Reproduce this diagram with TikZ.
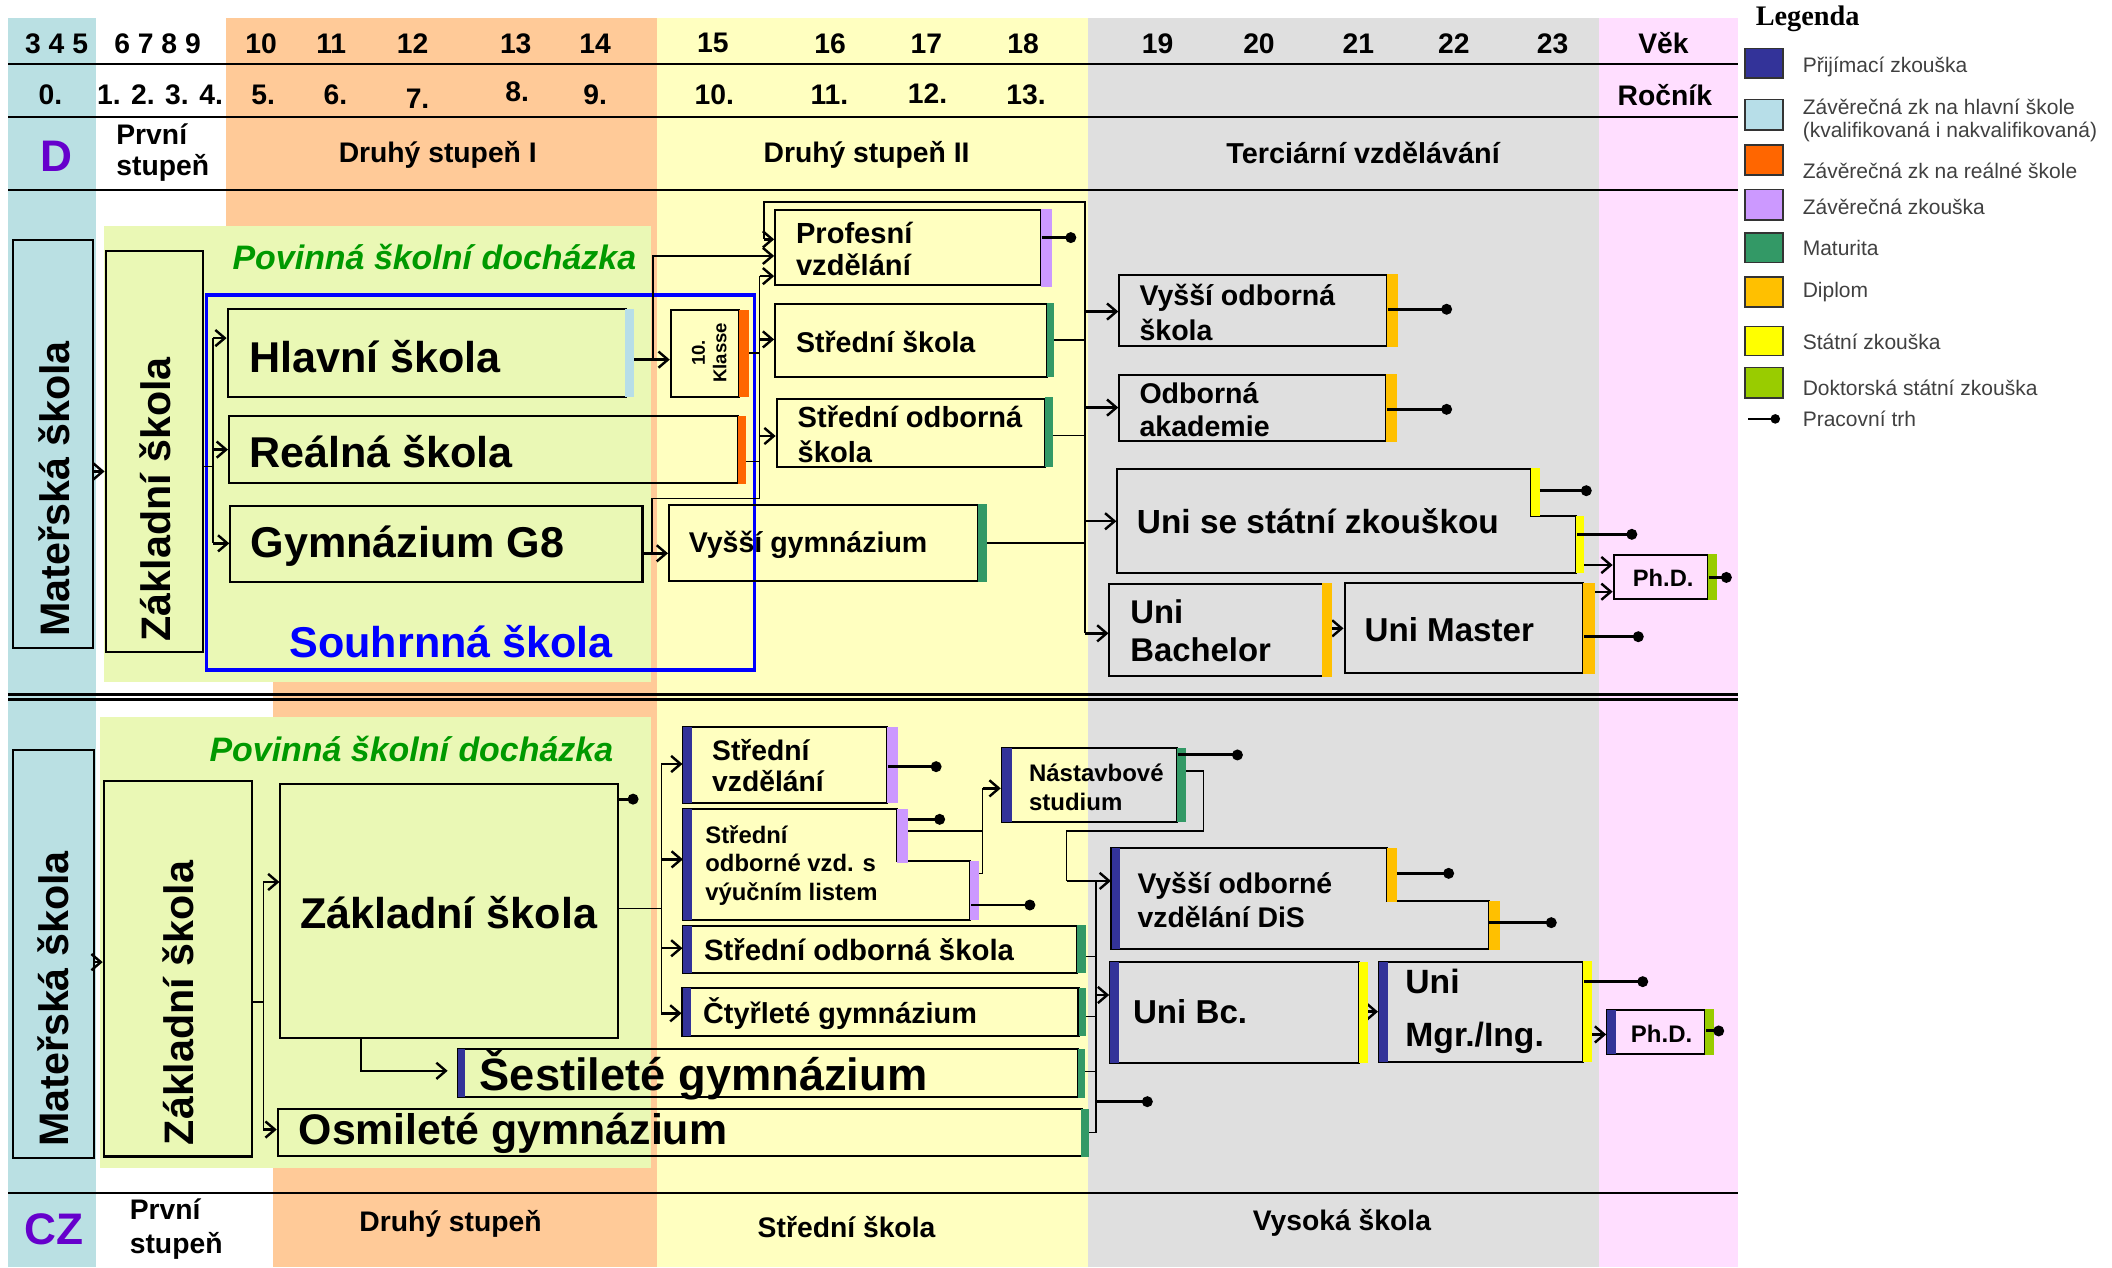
\documentclass[tikz,border=0pt]{standalone}
\usepackage{fontspec}
\setmainfont{Liberation Sans}
\newfontfamily\legserif{Liberation Serif}
\usetikzlibrary{arrows.meta,fit,calc}
\definecolor{cBlueCol}{RGB}{186,224,227}
\definecolor{cOrange}{RGB}{255,202,152}
\definecolor{cYellow}{RGB}{255,255,192}
\definecolor{cGray}{RGB}{223,223,223}
\definecolor{cPink}{RGB}{255,222,255}
\definecolor{cGreenBg}{RGB}{234,248,181}
\definecolor{bPrij}{RGB}{51,51,153}
\definecolor{bHlav}{RGB}{183,222,232}
\definecolor{bReal}{RGB}{255,102,0}
\definecolor{bZav}{RGB}{204,153,255}
\definecolor{bMat}{RGB}{51,153,102}
\definecolor{bDip}{RGB}{255,192,0}
\definecolor{bStat}{RGB}{255,255,0}
\definecolor{bDok}{RGB}{153,204,0}
\definecolor{txtPurple}{RGB}{102,0,204}
\definecolor{txtGreen}{RGB}{0,153,0}
\definecolor{blueBox}{RGB}{0,0,255}
\definecolor{legGray}{RGB}{64,64,64}
\newcommand\fsz[2]{\fontsize{#1}{#2}\selectfont}
\newcommand\hdr{\bfseries\fsz{10.5}{12.4}}
\newcommand\colbar[5]{\fill[#1] (#2,#3) rectangle (#4,#5);}
\begin{document}
\begin{tikzpicture}[x=0.5pt,y=-0.5pt,
  bx/.style={draw, line width=0.75pt, inner sep=0pt},
  tx/.style={anchor=west, inner sep=0pt, align=left},
  ctx/.style={inner sep=0pt, align=center},
  arr/.style={line width=0.9pt, -{Straight Barb[length=3.5pt,width=6pt]}},
  ln/.style={line width=0.6pt},
  job/.style={line width=1.1pt, -{Circle[length=4pt]}},
  hl/.style={line width=0.8pt},
  swatch/.style={draw=black!80, line width=0.5pt},
  legtx/.style={anchor=west, inner sep=0pt, align=left, font=\fsz{7.8}{8.6}, text=legGray}
]
\useasboundingbox (0,0) rectangle (1568,941);
% ---------- backgrounds ----------
\fill[cBlueCol] (6,13) rectangle (71,941);
\fill[cOrange] (168,13) rectangle (488,506);
\fill[cOrange] (203,506) rectangle (488,941);
\fill[cYellow] (488,13) rectangle (808,941);
\fill[cGray] (808,13) rectangle (1187,941);
\fill[cPink] (1187,13) rectangle (1290,941);
\fill[cGreenBg] (77,167.5) rectangle (483,506);
\fill[cGreenBg] (74,532) rectangle (483,867);
% ---------- header lines ----------
\draw[hl] (6,47.8) -- (1290,47.8);
\draw[hl] (6,86.6) -- (1290,86.6);
\draw[hl] (6,141) -- (1290,141);
\draw[line width=1.1pt] (6,515.3) -- (1290,515.3);
\draw[line width=1.1pt] (6,519) -- (1290,519);
\draw[hl] (6,885.4) -- (1290,885.4);
% ---------- header text ----------
\foreach \t/\x [count=\i] in {3 4 5/42, 6 7 8 9/117, 10/193.8, 11/245.9, 12/306.3, 13/382.9, 14/441.8, 15/529.3, 16/616.3, 17/687.7, 18/759.6, 19/859.5, 20/934.7, 21/1008.5, 22/1079.4, 23/1152.7, Věk/1235}
  \node[ctx, font=\hdr] (age\i) at (\x,32.2) {\t};
\foreach \t/\x/\y [count=\i] in {0./37.5/70.5, 1. 2. 3. 4./118.8/70.5, 5./195.4/70.5, 6./249/70.5, 7./310/73, 8./383.9/68, 9./441.8/70.5, 10./530.3/70.5, 11./615.8/70.5, 12./688.7/69.3, 13./761.7/70.5, Ročník/1236/70.5}
  \node[ctx, font=\hdr] (grade\i) at (\x,\y) {\t};
\node[ctx, font=\bfseries\fsz{16.4}{18}, text=txtPurple] (dlab) at (41.7,116.3) {D};
\node[tx, font=\bfseries\fsz{10.5}{11.75}] (ps1) at (86,113.2) {První\\stupeň};
\node[ctx, font=\hdr] (ds1) at (325,115.1) {Druhý stupeň I};
\node[ctx, font=\hdr] (ds2) at (643.4,115.1) {Druhý stupeň II};
\node[ctx, font=\bfseries\fsz{10.7}{12.4}] (terc) at (1012,113.5) {Terciární vzdělávání};
% ---------- legend ----------
\node[inner sep=0pt, font=\legserif\bfseries\fsz{10.5}{12}] (leg) at (1342,14) {Legenda};
\filldraw[swatch, fill=bPrij] (1295.5,36) rectangle (1323.7,58);
\filldraw[swatch, fill=bHlav] (1295.5,74) rectangle (1323.7,96.5);
\filldraw[swatch, fill=bReal] (1295.5,107.6) rectangle (1323.7,130);
\filldraw[swatch, fill=bZav] (1295.5,140.6) rectangle (1323.7,163.3);
\filldraw[swatch, fill=bMat] (1295.5,173) rectangle (1323.7,195);
\filldraw[swatch, fill=bDip] (1295.5,205.6) rectangle (1323.7,227.9);
\filldraw[swatch, fill=bStat] (1295.5,242.5) rectangle (1323.7,264);
\filldraw[swatch, fill=bDok] (1295.5,273) rectangle (1323.7,295.6);
\node[legtx] (l1) at (1338,50) {Přijímací zkouška};
\node[legtx] (l2) at (1338,89.4) {Závěrečná zk na hlavní škole\\(kvalifikovaná i nakvalifikovaná)};
\node[legtx] (l3) at (1338,126.5) {Závěrečná zk na reálné škole};
\node[legtx] (l4) at (1338,153.5) {Závěrečná zkouška};
\node[legtx] (l5) at (1338,184) {Maturita};
\node[legtx] (l6) at (1338,216.5) {Diplom};
\node[legtx] (l7) at (1338,254) {Státní zkouška};
\node[legtx] (l8) at (1338,288) {Doktorská státní zkouška};
\node[legtx] (l9) at (1338,311) {Pracovní trh};
\coordinate (legdot) at (1321.5,311);
\draw[line width=0.8pt, -{Circle[length=3.5pt]}] (1298,311) -- (legdot);
% =================== UPPER (D) ===================
\node[bx, fit={(9.5,178.2)(69,481.3)}] (mu) {};
\node[bx, fit={(78.4,186)(150.4,483.7)}] (zu) {};
\node[draw=blueBox, line width=1.2pt, inner sep=0pt, fit={(153.4,219)(560,497.4)}] (sh) {};
\node[bx, fit={(169,229.6)(465,295)}] (hs) {};
\node[bx, fit={(170,308.8)(548,358.8)}] (rs) {};
\node[bx, fit={(171,375.6)(477,432.3)}] (g8) {};
\node[bx, fit={(498,230)(549,294.5)}] (kl) {};
\node[bx, fit={(575.5,155.9)(772.5,211.6)}] (pv) {};
\node[bx, fit={(575.5,225.7)(777,279.6)}] (ss) {};
\node[bx, fit={(576.6,296)(776,346.4)}] (so) {};
\node[bx, fit={(496.7,374.9)(726,431.3)}] (vg) {};
\node[bx, fit={(831,204.1)(1029.5,256.8)}] (vos) {};
\node[bx, fit={(831,278.4)(1029.3,327.4)}] (oa) {};
\node[inner sep=0pt, fit={(829.2,348.2)(1170.4,425.2)}] (us) {};
\draw[line width=0.75pt] (829.2,348.2) -- (1137,348.2) -- (1137,382.9) -- (1170.4,382.9) -- (1170.4,425.2) -- (829.2,425.2) -- cycle;
\node[bx, fit={(823.7,433.6)(982,501.9)}] (ub) {};
\node[bx, fit={(998.2,433)(1175.3,500)}] (um) {};
\node[bx, fit={(1198,412)(1268,444.7)}] (ph1) {};
% connectors upper
\draw[arr] (mu.east |- 0,350) -- (zu.west |- 0,350);
\coordinate (zuj) at (158.3,346.4);
\coordinate (zuT) at (158.3,251);
\coordinate (zuB) at (158.3,403.4);
\draw[ln] (zu.east |- zuj) -- (zuj);
\draw[ln] (zuT) -- (zuB);
\draw[arr] (zuT) -- (hs.west |- zuT);
\draw[arr] (zuT |- rs.west) -- (rs.west);
\draw[arr] (zuB) -- (g8.west |- zuB);
\draw[arr] (hs.east |- 0,267) -- (kl.west |- 0,267);
\coordinate (hj) at (485,267);
\draw[arr] (hj) |- (pv.west |- 0,190);
\draw[arr] (g8.east |- 0,410.8) -- (vg.west |- 0,410.8);
\coordinate (gj) at (484,410.8);
\coordinate (cL) at (564,370);
\draw[ln] (gj) |- (cL) -- (564,205);
\draw[arr] (564,205) -- (pv.west |- 0,205);
\draw[arr] (564,252) -- (ss.west |- 0,252);
\draw[arr] (564,323.7) -- (so.west |- 0,323.7);
\draw[ln] (kl.east |- 0,262.3) -- (564,262.3);
\draw[ln] (rs.east |- 0,342.7) -- (564,342.7);
\coordinate (cB) at (805.4,150.2);
\draw[ln] (805.4,470.2) -- (cB) -| (567,177.7);
\draw[arr] (567,177.7) -- (pv.west |- 0,177.7);
\draw[ln] (ss.east |- 0,252.4) -- (805.4,252.4);
\draw[ln] (so.east |- 0,323.4) -- (805.4,323.4);
\draw[ln] (vg.east |- 0,403.3) -- (805.4,403.3);
\draw[arr] (805.4,231.3) -- (vos.west |- 0,231.3);
\draw[arr] (805.4,302.6) -- (oa.west |- 0,302.6);
\draw[arr] (805.4,387) -- (us.west |- 0,387);
\draw[arr] (805.4,470.2) -- (ub.west |- 0,470.2);
\draw[arr] (ub.east |- 0,466.5) -- (um.west |- 0,466.5);
\draw[arr] (us.east |- 0,419.5) -- (ph1.west |- 0,419.5);
\draw[arr] (um.east |- 0,439.3) -- (ph1.west |- 0,439.3);
% bars upper
\colbar{bHlav}{464}{229.6}{471}{295}
\colbar{bReal}{548}{308.8}{554}{359}
\colbar{bReal}{549}{230}{556}{294.5}
\colbar{bZav}{772.5}{155.4}{781}{212.8}
\colbar{bMat}{777}{225}{782.6}{280}
\colbar{bMat}{776}{295}{782}{347}
\colbar{bMat}{726}{374}{732.7}{432}
\colbar{bDip}{1029.5}{203.5}{1037.6}{257.5}
\colbar{bDip}{1029.3}{278}{1037}{328}
\colbar{bStat}{1136.6}{347.7}{1143}{382.9}
\colbar{bStat}{1170.4}{382.9}{1176}{425.7}
\colbar{bDip}{981.5}{433}{989.2}{502.5}
\colbar{bDip}{1175.3}{432.5}{1184}{500.5}
\colbar{bDok}{1268}{411.5}{1274.4}{445.5}
% labour market dots upper
\coordinate (d1) at (799,176.4);
\draw[job] (pv.east |- d1) -- (d1);
\coordinate (d2) at (1078,229.6);
\draw[job] (vos.east |- d2) -- (d2);
\coordinate (d3) at (1078,303.9);
\draw[job] (oa.east |- d3) -- (d3);
\coordinate (d4) at (1181.7,364.3);
\draw[job] (1143,364.3) -- (d4);
\coordinate (d5) at (1215.5,396.7);
\draw[job] (us.east |- d5) -- (d5);
\coordinate (d6) at (1220.3,472.7);
\draw[job] (um.east |- d6) -- (d6);
\coordinate (d7) at (1285.7,428.7);
\draw[job] (ph1.east |- d7) -- (d7);
% texts upper
\node[ctx, rotate=90, font=\bfseries\fsz{15.3}{18}] (mu-t) at (40,363) {Mateřská škola};
\node[ctx, rotate=90, font=\bfseries\fsz{15.3}{18}] (zu-t) at (115.5,370.6) {Základní škola};
\node[ctx, font=\bfseries\itshape\fsz{12.6}{15}, text=txtGreen] (pov1) at (322.5,190.5) {Povinná školní docházka};
\node[ctx, font=\bfseries\fsz{16}{19}, text=blueBox] (sh-t) at (335,476) {Souhrnná škola};
\node[tx, font=\bfseries\fsz{16}{19}] (hs-t) at (184.5,264.8) {Hlavní škola};
\node[tx, font=\bfseries\fsz{16}{19}] (rs-t) at (184.5,335) {Reálná škola};
\node[tx, font=\bfseries\fsz{16}{19}] (g8-t) at (185.6,405.8) {Gymnázium G8};
\node[ctx, rotate=90, font=\bfseries\fsz{6.9}{8}] (kl-t) at (526.5,262) {10.\\Klasse};
\node[tx, font=\bfseries\fsz{10.8}{11.75}] (pv-t) at (590.6,185) {Profesní\\vzdělání};
\node[tx, font=\bfseries\fsz{10.6}{12}] (ss-t) at (590.6,253.6) {Střední škola};
\node[tx, font=\bfseries\fsz{10.8}{12.75}] (so-t) at (591.8,322.5) {Střední odborná\\škola};
\node[tx, font=\bfseries\fsz{10.6}{12}] (vg-t) at (511,404.6) {Vyšší gymnázium};
\node[tx, font=\bfseries\fsz{10.6}{13}] (vos-t) at (845.6,232) {Vyšší odborná\\škola};
\node[tx, font=\bfseries\fsz{10.6}{12.35}] (oa-t) at (845.6,304.4) {Odborná\\akademie};
\node[tx, font=\bfseries\fsz{12.4}{14}] (us-t) at (843.7,387.3) {Uni se státní zkouškou};
\node[tx, font=\bfseries\fsz{12.2}{14.3}] (ub-t) at (838.8,468.3) {Uni\\Bachelor};
\node[tx, font=\bfseries\fsz{12.3}{14}] (um-t) at (1012.7,467.8) {Uni Master};
\node[ctx, font=\bfseries\fsz{8.8}{10}] (ph1-t) at (1234.8,428.7) {Ph.D.};
% =================== LOWER (CZ) ===================
\node[bx, fit={(9.3,556.7)(69.6,859.6)}] (ml) {};
\node[bx, fit={(77,579.7)(187.3,858.6)}] (zl) {};
\node[bx, fit={(208.2,582.4)(459,770.3)}] (zb) {};
\node[bx, fit={(339.7,779)(800,814.4)}] (sg) {};
\node[bx, fit={(206.2,823.6)(803,858.4)}] (og) {};
\node[bx, fit={(507.4,540)(658.5,596)}] (sv) {};
\node[inner sep=0pt, fit={(507.4,600.9)(720.5,683)}] (sov) {};
\draw[line width=0.75pt] (507.4,600.9) -- (665.8,600.9) -- (665.8,639.2) -- (720.5,639.2) -- (720.5,683) -- (507.4,683) -- cycle;
\node[bx, fit={(743.7,555.6)(873.6,610)}] (ns) {};
\node[bx, fit={(507.4,687.5)(799.4,722.1)}] (sos) {};
\node[bx, fit={(506.7,733.8)(800.7,769.1)}] (cg) {};
\node[inner sep=0pt, fit={(825.2,629.3)(1105.3,704.8)}] (vod) {};
\draw[line width=0.75pt] (825.2,629.3) -- (1029.8,629.3) -- (1029.8,668.9) -- (1105.3,668.9) -- (1105.3,704.8) -- (825.2,704.8) -- cycle;
\node[bx, fit={(824.2,714)(1008.9,789)}] (ubc) {};
\node[bx, fit={(1023.8,714)(1175.6,788.2)}] (umg) {};
\node[bx, fit={(1193.2,749.8)(1266,782.5)}] (ph2) {};
% connectors lower
\draw[arr] (ml.east |- 0,714.3) -- (zl.west |- 0,714.3);
\coordinate (zlj) at (195.6,743.8);
\coordinate (zlT) at (195.6,654.8);
\coordinate (zlB) at (195.6,838.6);
\draw[ln] (zl.east |- zlj) -- (zlj);
\draw[ln] (zlT) -- (zlB);
\draw[arr] (zlT) -- (zb.west |- zlT);
\draw[arr] (zlB) -- (og.west |- zlB);
\draw[arr, shorten >=3.3pt] (zb.south -| 267.8,0) |- (sg.west |- 0,795);
\coordinate (zbd) at (474,593.3);
\draw[job] (zb.east |- zbd) -- (zbd);
\coordinate (zbj) at (491.1,674.4);
\draw[ln] (zb.east |- zbj) -- (zbj);
\draw[ln] (491.1,567.2) -- (491.1,752.3);
\draw[arr] (491.1,567.2) -- (sv.west |- 0,567.2);
\draw[arr] (491.1,638) -- (sov.west |- 0,638);
\draw[arr] (491.1,704) -- (sos.west |- 0,704);
\draw[arr] (491.1,752.3) -- (cg.west |- 0,752.3);
\draw[ln] (665.8,617) -- (729.5,617);
\draw[ln] (sov.east |- 0,648.4) -- (729.5,648.4) -- (729.5,585.3);
\draw[arr] (729.5,585.3) -- (ns.west |- 0,585.3);
\draw[ln] (ns.east |- 0,572.4) -- (893.5,572.4) -- (893.5,617) -- (791.8,617) -- (791.8,654);
\draw[arr] (791.8,654) -- (vod.west |- 0,654);
\draw[ln] (813.6,654) -- (813.6,840.9);
\draw[ln] (sos.east |- 0,710.2) -- (813.6,710.2);
\draw[ln] (cg.east |- 0,754.8) -- (813.6,754.8);
\draw[ln] (sg.east |- 0,795.6) -- (813.6,795.6);
\draw[ln] (og.east |- 0,840.9) -- (813.6,840.9);
\draw[arr] (813.6,738.7) -- (ubc.west |- 0,738.7);
\draw[arr] (ubc.east |- 0,751.1) -- (umg.west |- 0,751.1);
\draw[arr] (umg.east |- 0,768) -- (ph2.west |- 0,768);
% bars lower
\colbar{bPrij}{339.7}{779}{345.4}{814.6}
\colbar{bMat}{800}{778.5}{805.4}{815}
\colbar{bMat}{802.8}{823}{808.6}{859}
\colbar{bPrij}{507.4}{540}{514}{596}
\colbar{bZav}{658.5}{539.5}{666.5}{596.5}
\colbar{bPrij}{507.4}{600.9}{514}{683}
\colbar{bZav}{665.8}{600.9}{674.1}{640.5}
\colbar{bZav}{720.5}{639.2}{726.5}{683}
\colbar{bPrij}{743.7}{555.6}{751}{610}
\colbar{bMat}{873.6}{555}{880.3}{610.5}
\colbar{bPrij}{507.4}{687.5}{514}{722.1}
\colbar{bMat}{799.4}{687}{806}{722.5}
\colbar{bPrij}{506.7}{733.8}{513}{769.1}
\colbar{bMat}{800.7}{733.3}{806.5}{769.5}
\colbar{bPrij}{825.2}{629.3}{831.5}{704.8}
\colbar{bDip}{1029.8}{629.3}{1037}{669.4}
\colbar{bDip}{1105.3}{668.9}{1113.3}{705.3}
\colbar{bPrij}{824.2}{714}{830.9}{789}
\colbar{bStat}{1008.9}{714}{1015.5}{789}
\colbar{bPrij}{1023.8}{714}{1030.8}{788.2}
\colbar{bStat}{1175.6}{713.5}{1182.2}{788.5}
\colbar{bPrij}{1193.2}{749.8}{1199.8}{782.5}
\colbar{bDok}{1266}{749.3}{1272.4}{783}
% labour market dots lower
\coordinate (e1) at (699,569.2);
\draw[job] (sv.east |- e1) -- (e1);
\coordinate (e2) at (701.6,608.3);
\draw[job] (674.1,608.3) -- (e2);
\coordinate (e3) at (768.6,671.9);
\draw[job] (sov.east |- e3) -- (e3);
\coordinate (e4) at (922.7,560.5);
\draw[job] (ns.east |- e4) -- (e4);
\coordinate (e5) at (855.8,817.9);
\draw[job] (813.6,817.9) -- (e5);
\coordinate (e6) at (1079.5,648.4);
\draw[job] (1037,648.4) -- (e6);
\coordinate (e7) at (1155.7,685);
\draw[job] (vod.east |- e7) -- (e7);
\coordinate (e8) at (1223.6,728.8);
\draw[job] (umg.east |- e8) -- (e8);
\coordinate (e9) at (1280,765.4);
\draw[job] (ph2.east |- e9) -- (e9);
% texts lower
\node[ctx, rotate=90, font=\bfseries\fsz{15.3}{18}] (ml-t) at (39.8,741.7) {Mateřská škola};
\node[ctx, rotate=90, font=\bfseries\fsz{15.3}{18}] (zl-t) at (132.6,744.7) {Základní škola};
\node[ctx, font=\bfseries\itshape\fsz{12.6}{15}, text=txtGreen] (pov2) at (305.4,555.9) {Povinná školní docházka};
\node[ctx, font=\bfseries\fsz{16}{19}] (zb-t) at (333,677.5) {Základní škola};
\node[tx, font=\bfseries\fsz{16.8}{20}] (sg-t) at (355.8,798) {Šestileté gymnázium};
\node[tx, font=\bfseries\fsz{15.9}{19}] (og-t) at (221.4,841.4) {Osmileté gymnázium};
\node[tx, font=\bfseries\fsz{10.5}{11.75}] (sv-t) at (528.3,568.5) {Střední\\vzdělání};
\node[tx, font=\bfseries\fsz{8.85}{10.6}] (sov-t) at (523.3,642.5) {Střední\\odborné vzd. s\\výučním listem};
\node[tx, font=\bfseries\fsz{8.9}{10.55}] (ns-t) at (763.6,584.6) {Nástavbové\\studium};
\node[tx, font=\bfseries\fsz{10.9}{13}] (sos-t) at (522.3,705.3) {Střední odborná škola};
\node[tx, font=\bfseries\fsz{10.7}{13}] (cg-t) at (521.6,752.3) {Čtyřleté gymnázium};
\node[tx, font=\bfseries\fsz{10.55}{12.4}] (vod-t) at (844.1,668.2) {Vyšší odborné\\vzdělání DiS};
\node[tx, font=\bfseries\fsz{12.3}{14}] (ubc-t) at (840.8,751.1) {Uni Bc.};
\node[tx, font=\bfseries\fsz{12.5}{19.8}] (umg-t) at (1043,751.1) {Uni\\Mgr./Ing.};
\node[ctx, font=\bfseries\fsz{8.9}{10}] (ph2-t) at (1233.6,767.2) {Ph.D.};
% bottom row
\node[ctx, font=\bfseries\fsz{16.4}{18}, text=txtPurple] (czlab) at (39.8,912.4) {CZ};
\node[tx, font=\bfseries\fsz{10.5}{12.35}] (ps2) at (96,912.4) {První\\stupeň};
\node[ctx, font=\hdr] (dsb) at (334.5,908.3) {Druhý stupeň};
\node[ctx, font=\hdr] (ssk) at (628.5,910.7) {Střední škola};
\node[ctx, font=\hdr] (vsk) at (996.3,908.2) {Vysoká škola};
\end{tikzpicture}
\end{document}
